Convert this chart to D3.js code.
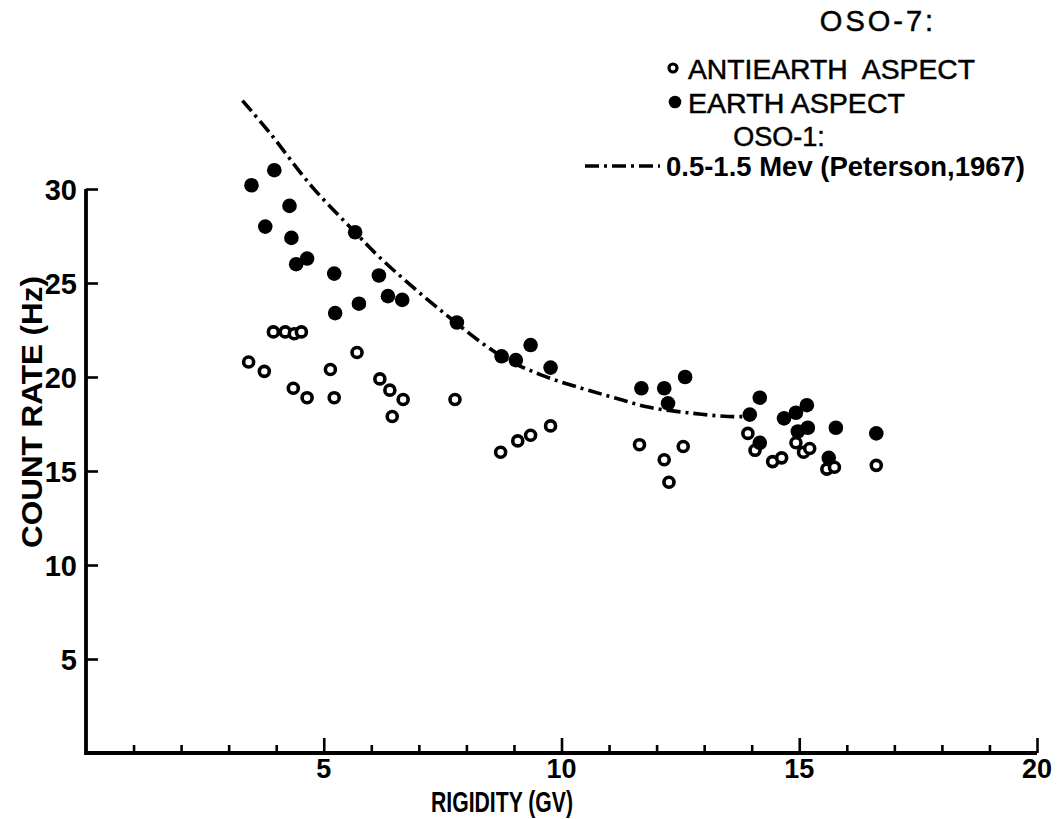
<!DOCTYPE html>
<html>
<head>
<meta charset="utf-8">
<script src="https://cdn.jsdelivr.net/npm/d3@7"></script>
<style>
  html, body { margin: 0; padding: 0; background: #fff; }
  svg { display: block; }
  text { fill: #000; font-family: "Liberation Sans", Arial, Helvetica, sans-serif; }
</style>
</head>
<body>
<svg id="chart" width="1061" height="819"></svg>
<script>
// ---- data ----
const earthX = [3.48, 3.96, 4.28, 3.77, 4.32, 4.42, 4.65, 5.22, 5.66, 6.16, 6.35, 6.65, 5.74, 5.24, 7.80,
                8.74, 9.04, 9.35, 9.77, 11.68, 12.16, 12.60, 12.24, 14.17, 13.96, 14.17, 14.68, 14.93,
                15.16, 15.18, 14.97, 15.77, 15.62, 16.62];
const earthY = [30.2, 31.0, 29.1, 28.0, 27.4, 26.0, 26.3, 25.5, 27.7, 25.4, 24.3, 24.1, 23.9, 23.4, 22.9,
                21.1, 20.9, 21.7, 20.5, 19.4, 19.4, 20.0, 18.6, 18.9, 18.0, 16.5, 17.8, 18.1,
                18.5, 17.3, 17.1, 17.3, 15.7, 17.0];

const antiX = [3.42, 3.75, 3.94, 4.19, 4.38, 4.53, 4.36, 4.65, 5.14, 5.22, 5.70, 6.18, 6.39, 6.67, 6.44,
               7.76, 8.72, 9.08, 9.35, 9.77, 11.64, 12.16, 12.26, 12.56, 13.92, 14.07, 14.44, 14.63,
               14.93, 15.09, 15.22, 15.58, 15.74, 16.62];
const antiY = [20.8, 20.3, 22.4, 22.4, 22.3, 22.4, 19.4, 18.9, 20.4, 18.9, 21.3, 19.9, 19.3, 18.8, 17.9,
               18.8, 16.0, 16.6, 16.9, 17.4, 16.4, 15.6, 14.4, 16.3, 17.0, 16.1, 15.5, 15.7,
               16.5, 16.0, 16.2, 15.1, 15.2, 15.3];

// OSO-1 curve (Peterson, 1967)
const curveX = [3.29, 3.86, 4.76, 5.66, 6.16, 7.48, 8.74, 9.58, 10.42, 11.11, 11.82, 12.66, 13.50, 13.96];
const curveY = [34.7, 33.0, 30.1, 27.7, 26.4, 23.5, 21.1, 20.1, 19.4, 18.9, 18.4, 18.1, 17.9, 17.9];

const yTicks = [5, 10, 15, 20, 25, 30];
const xMajorTicks = [5, 10, 15, 20];
const xMinorTicks = [1, 2, 3, 4, 6, 7, 8, 9, 11, 12, 13, 14, 16, 17, 18, 19];

const xTitle = "RIGIDITY (GV)";
const yTitle = "COUNT RATE (Hz)";
const legendTitle1 = "OSO-7:";
const legendAnti = "ANTIEARTH  ASPECT";
const legendEarth = "EARTH ASPECT";
const legendTitle2 = "OSO-1:";
const legendCurve = "0.5-1.5 Mev (Peterson,1967)";

// ---- drawing ----
const svg = d3.select("#chart");
svg.append("rect").attr("width", 1061).attr("height", 819).attr("fill", "#fff");

const x = d3.scaleLinear().domain([0, 20]).range([86, 1037]);
const y = d3.scaleLinear().domain([0, 30]).range([753, 189]);

// axes ticks
const yAxis = d3.axisRight(y).tickValues(yTicks).tickSize(12).tickFormat("");
const gy = svg.append("g").attr("transform", `translate(${x(0)},0)`).call(yAxis);
gy.select(".domain").remove();

const xMinor = d3.axisTop(x).tickValues(xMinorTicks).tickSize(8).tickFormat("");
const gxm = svg.append("g").attr("transform", `translate(0,${y(0)})`).call(xMinor);
gxm.select(".domain").remove();
const xMajor = d3.axisTop(x).tickValues(xMajorTicks).tickSize(15).tickFormat("");
const gxM = svg.append("g").attr("transform", `translate(0,${y(0)})`).call(xMajor);
gxM.select(".domain").remove();
svg.selectAll(".tick line").attr("stroke", "#000").attr("stroke-width", 2.6);

// axis lines (L shape)
svg.append("path")
  .attr("d", d3.line()([[x(0), y(30)], [x(0), y(0)], [x(20), y(0)]]))
  .attr("fill", "none").attr("stroke", "#000").attr("stroke-width", 3.8)
  .attr("stroke-linejoin", "miter");

// tick labels
svg.append("g").selectAll("text").data(yTicks).join("text")
  .attr("x", 77).attr("y", d => y(d) + 10.5)
  .attr("text-anchor", "end").attr("font-size", 29).attr("font-weight", "bold")
  .text(d => d);

svg.append("g").selectAll("text").data(xMajorTicks).join("text")
  .attr("x", d => x(d)).attr("y", 778)
  .attr("text-anchor", "middle").attr("font-size", 27).attr("font-weight", "bold")
  .text(d => d);

// axis titles
svg.append("text").attr("x", 502).attr("y", 812)
  .attr("text-anchor", "middle").attr("font-size", 29).attr("font-weight", "bold")
  .attr("textLength", 142).attr("lengthAdjust", "spacingAndGlyphs")
  .text(xTitle);
svg.append("text").attr("transform", "translate(42,412) rotate(-90)")
  .attr("text-anchor", "middle").attr("font-size", 29).attr("font-weight", "bold")
  .attr("textLength", 272).attr("lengthAdjust", "spacingAndGlyphs")
  .text(yTitle);

// curve
const curvePts = curveX.map((v, i) => [x(v), y(curveY[i])]);
svg.append("path")
  .attr("d", d3.line().curve(d3.curveCatmullRom.alpha(0.5))(curvePts))
  .attr("fill", "none").attr("stroke", "#000").attr("stroke-width", 3.6)
  .attr("stroke-dasharray", "14,5,3,5");

// points
const earthPts = earthX.map((v, i) => [v, earthY[i]]);
const antiPts = antiX.map((v, i) => [v, antiY[i]]);

svg.append("g").selectAll("circle").data(antiPts).join("circle")
  .attr("cx", d => x(d[0])).attr("cy", d => y(d[1])).attr("r", 5)
  .attr("fill", "#fff").attr("stroke", "#000").attr("stroke-width", 3.6);

svg.append("g").selectAll("circle").data(earthPts).join("circle")
  .attr("cx", d => x(d[0])).attr("cy", d => y(d[1])).attr("r", 7.3)
  .attr("fill", "#000");

// legend
const lg = svg.append("g").attr("stroke", "#000").attr("stroke-width", 0.5);
lg.append("text").attr("x", 878).attr("y", 31).attr("text-anchor", "middle")
  .attr("font-size", 29).attr("letter-spacing", 3).text(legendTitle1);
svg.append("circle").attr("cx", 673).attr("cy", 68).attr("r", 4)
  .attr("fill", "#fff").attr("stroke", "#000").attr("stroke-width", 3.2);
lg.append("text").attr("x", 688).attr("y", 79).attr("font-size", 28)
  .attr("textLength", 287).attr("lengthAdjust", "spacingAndGlyphs")
  .attr("xml:space", "preserve").text(legendAnti);
svg.append("circle").attr("cx", 675).attr("cy", 102).attr("r", 6.3).attr("fill", "#000");
lg.append("text").attr("x", 688).attr("y", 113).attr("font-size", 28)
  .attr("textLength", 217).attr("lengthAdjust", "spacingAndGlyphs").text(legendEarth);
lg.append("text").attr("x", 779).attr("y", 146).attr("text-anchor", "middle")
  .attr("font-size", 27).text(legendTitle2);
svg.append("path")
  .attr("d", d3.line()([[585, 166], [660, 166]]))
  .attr("stroke", "#000").attr("stroke-width", 3.6).attr("stroke-dasharray", "14,5,3,5");
svg.append("text").attr("x", 666).attr("y", 176).attr("font-size", 28).attr("font-weight", "bold")
  .attr("textLength", 359).attr("lengthAdjust", "spacingAndGlyphs").text(legendCurve);
</script>
</body>
</html>
